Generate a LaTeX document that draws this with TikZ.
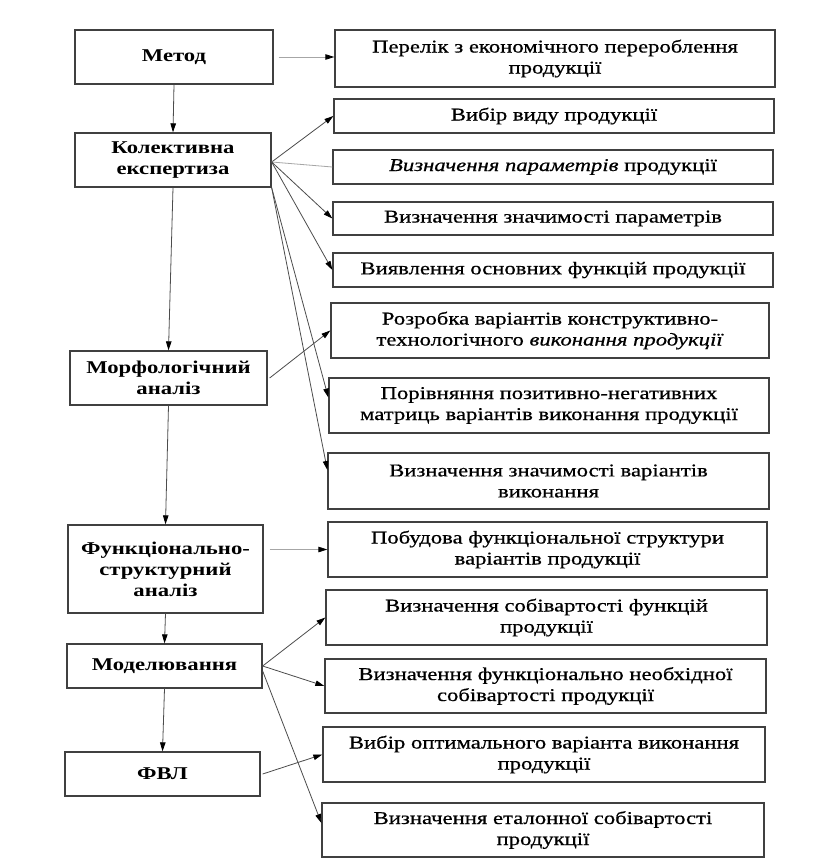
\documentclass[tikz,border=0pt]{standalone}
\usepackage{fontspec}
\setmainfont{Liberation Serif}[FakeStretch=1.26,
  UprightFeatures={FakeBold=0.6},
  ItalicFeatures={FakeBold=0.6}]
\usetikzlibrary{arrows.meta}
\begin{document}
\begin{tikzpicture}[x=1pt,y=-1pt,
  box/.style={draw=black!75, line width=1.3pt, inner sep=0pt, align=center, font=\fontsize{18}{21}\selectfont},
  lbox/.style={box, font=\fontsize{18}{21}\selectfont\bfseries},
  conn/.style={draw=black!70, line width=0.8pt},
  tip/.style={-{Triangle[length=9pt,width=5.5pt,fill=black,color=black]}},
  arr/.style={conn, tip},
  faint/.style={draw=black!35, line width=0.8pt}
]
\useasboundingbox[fill=white] (0,0) rectangle (829,862);
% left column
\node[lbox, minimum width=198, minimum height=54] (met) at (174,57) {Метод};
\node[lbox, minimum width=196, minimum height=54] (kol) at (173,160) {Колективна\\експертиза};
\node[lbox, minimum width=197, minimum height=54] (morf) at (168.5,378) {Морфологічний\\аналіз};
\node[lbox, minimum width=195, minimum height=88] (fs) at (165.5,569) {Функціонально-\\структурний\\аналіз};
\node[lbox, minimum width=195, minimum height=44] (mod) at (164.5,666) {Моделювання};
\node[lbox, minimum width=195, minimum height=44] (fvl) at (162.5,774) {ФВЛ};
% right column
\node[box, minimum width=440, minimum height=57] (per) at (555,58.5) {Перелік з економічного перероблення\\продукції};
\node[box, minimum width=440, minimum height=34] (vyb) at (554,116) {Вибір виду продукції};
\node[box, minimum width=440, minimum height=34] (par) at (553,167) {\textit{Визначення параметрів} продукції};
\node[box, minimum width=440, minimum height=33] (znp) at (553,218.5) {Визначення значимості параметрів};
\node[box, minimum width=440, minimum height=34] (vyj) at (553,270) {Виявлення основних функцій продукції};
\node[box, minimum width=438, minimum height=55] (roz) at (550,330.5) {Розробка варіантів конструктивно-\\технологічного \textit{виконання продукції}};
\node[box, minimum width=440, minimum height=55] (por) at (549,405.5) {Порівняння позитивно-негативних\\матриць варіантів виконання продукції};
\node[box, minimum width=441, minimum height=56] (znv) at (548.5,481) {Визначення значимості варіантів\\виконання};
\node[box, minimum width=439, minimum height=55] (pob) at (547.5,549.5) {Побудова функціональної структури\\варіантів продукції};
\node[box, minimum width=441, minimum height=55] (sfn) at (546.5,617.5) {Визначення собівартості функцій\\продукції};
\node[box, minimum width=441, minimum height=54] (fno) at (545.5,686) {Визначення функціонально необхідної\\собівартості продукції};
\node[box, minimum width=442, minimum height=55] (opt) at (544,754.5) {Вибір оптимального варіанта виконання\\продукції};
\node[box, minimum width=442, minimum height=54] (etl) at (543,830) {Визначення еталонної собівартості\\продукції};
% vertical chain
\draw[arr] (met.south) -- (kol.north);
\draw[arr] (kol.south) -- (morf.north);
\draw[arr] (morf.south) -- (fs.north);
\draw[arr] (fs.south) -- (mod.north);
\draw[arr] (mod.south) -- (fvl.north);
% horizontal
\draw[faint, tip, shorten <=5pt] (met.east) -- (met.east -| per.west);
\draw[faint, tip, shorten <=6pt] (fs.east |- pob.west) -- (pob.west);
% fan from kol
\draw[arr] ([yshift=-2pt]kol.east) -- (vyb.west);
\draw[faint] ([yshift=-2pt]kol.east) -- (par.west);
\draw[arr] ([yshift=-2pt]kol.east) -- (znp.west);
\draw[arr] ([yshift=-2pt]kol.east) -- (vyj.west);
\draw[arr] (kol.south east) -- ([yshift=8pt]por.west);
\draw[arr] (kol.south east) -- ([yshift=11pt]znv.west);
% morf
\draw[arr] ([xshift=2pt]morf.east) -- (roz.west);
% mod
\draw[arr] (mod.east) -- (sfn.west);
\draw[arr] (mod.east) -- (fno.west);
\draw[arr] ([yshift=-5pt]mod.east) -- ([yshift=7pt]etl.west);
% fvl
\draw[arr] ([xshift=2pt]fvl.east) -- (opt.west);
\end{tikzpicture}
\end{document}
